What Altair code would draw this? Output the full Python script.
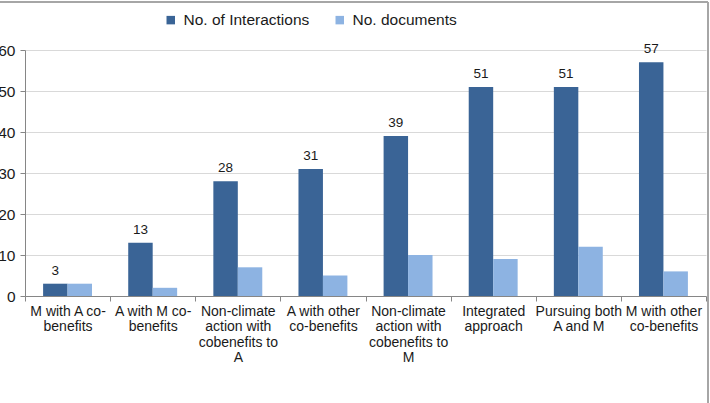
import altair as alt
import pandas as pd

categories = [
    "M with A co-|benefits",
    "A with M co-|benefits",
    "Non-climate|action with|cobenefits to|A",
    "A with other|co-benefits",
    "Non-climate|action with|cobenefits to|M",
    "Integrated|approach",
    "Pursuing both|A and M",
    "M with other|co-benefits",
]
series = ["No. of Interactions", "No. documents"]
interactions = [3, 13, 28, 31, 39, 51, 51, 57]
documents = [3, 2, 7, 5, 10, 9, 12, 6]
y_ticks = [0, 10, 20, 30, 40, 50, 60]
colors = ["#3A6496", "#8DB3E2"]

rows = []
for c, a, b in zip(categories, interactions, documents):
    rows.append({"cat": c, "series": series[0], "value": a})
    rows.append({"cat": c, "series": series[1], "value": b})
df = pd.DataFrame(rows)

FONT = "Liberation Sans"

x_enc = alt.X(
    "cat:N",
    sort=categories,
    scale=alt.Scale(paddingInner=0, paddingOuter=0),
    axis=alt.Axis(
        title=None,
        labelExpr="split(datum.label, '|')",
        labelAngle=0,
        labelFontSize=14,
        labelLineHeight=15.5,
        labelColor="#1a1a1a",
        labelFont=FONT,
        labelLimit=200,
        labelPadding=3,
        tickBand="extent",
        tickSize=5,
        tickColor="#868686",
        domainColor="#868686",
        grid=False,
        labelBaseline="top",
    ),
)
y_enc = alt.Y(
    "value:Q",
    scale=alt.Scale(domain=[0, 60], nice=False),
    axis=alt.Axis(
        title=None,
        values=y_ticks,
        labelFontSize=15.5,
        labelFont=FONT,
        labelColor="#1a1a1a",
        labelPadding=5,
        tickSize=5,
        tickColor="#868686",
        domainColor="#868686",
        gridColor="#D9D9D9",
        grid=True,
    ),
)
xoff = alt.XOffset(
    "series:N",
    sort=series,
    scale=alt.Scale(domain=series, paddingInner=0, paddingOuter=0.74),
)

bars = alt.Chart(df).mark_bar().encode(
    x=x_enc,
    y=y_enc,
    xOffset=xoff,
    color=alt.Color(
        "series:N",
        sort=series,
        scale=alt.Scale(domain=series, range=colors),
        legend=alt.Legend(
            title=None,
            orient="none",
            legendX=138,
            legendY=-38,
            direction="horizontal",
            symbolType="square",
            symbolSize=72,
            symbolStrokeWidth=0,
            labelFontSize=15.5,
            labelFont=FONT,
            labelColor="#1a1a1a",
            labelOffset=5,
            columnPadding=22,
        ),
    ),
)

labels = alt.Chart(df).transform_filter(
    alt.datum.series == series[0]
).mark_text(
    baseline="bottom", dy=-6, fontSize=13.5, font=FONT, color="#1a1a1a"
).encode(
    x=alt.X("cat:N", sort=categories),
    y=alt.Y("value:Q"),
    xOffset=alt.XOffset("series:N", sort=series),
    text=alt.Text("value:Q"),
)

border_top = alt.Chart(df).mark_rule(color="#A6A6A6", strokeWidth=1.5).encode(
    x=alt.value(-25), x2=alt.value(683), y=alt.value(-48)
)
border_right = alt.Chart(df).mark_rule(color="#A6A6A6", strokeWidth=1.5).encode(
    x=alt.value(683), y=alt.value(-48), y2=alt.value(353)
)

chart = alt.layer(bars, labels, border_top, border_right).properties(
    width=681,
    height=246,
    autosize=alt.AutoSizeParams(type="none"),
    padding={"left": 25, "top": 50, "right": 4, "bottom": 107},
    background="white",
).configure_view(stroke=None)

chart.save("out.html", embed_options={"renderer": "svg", "actions": False})
